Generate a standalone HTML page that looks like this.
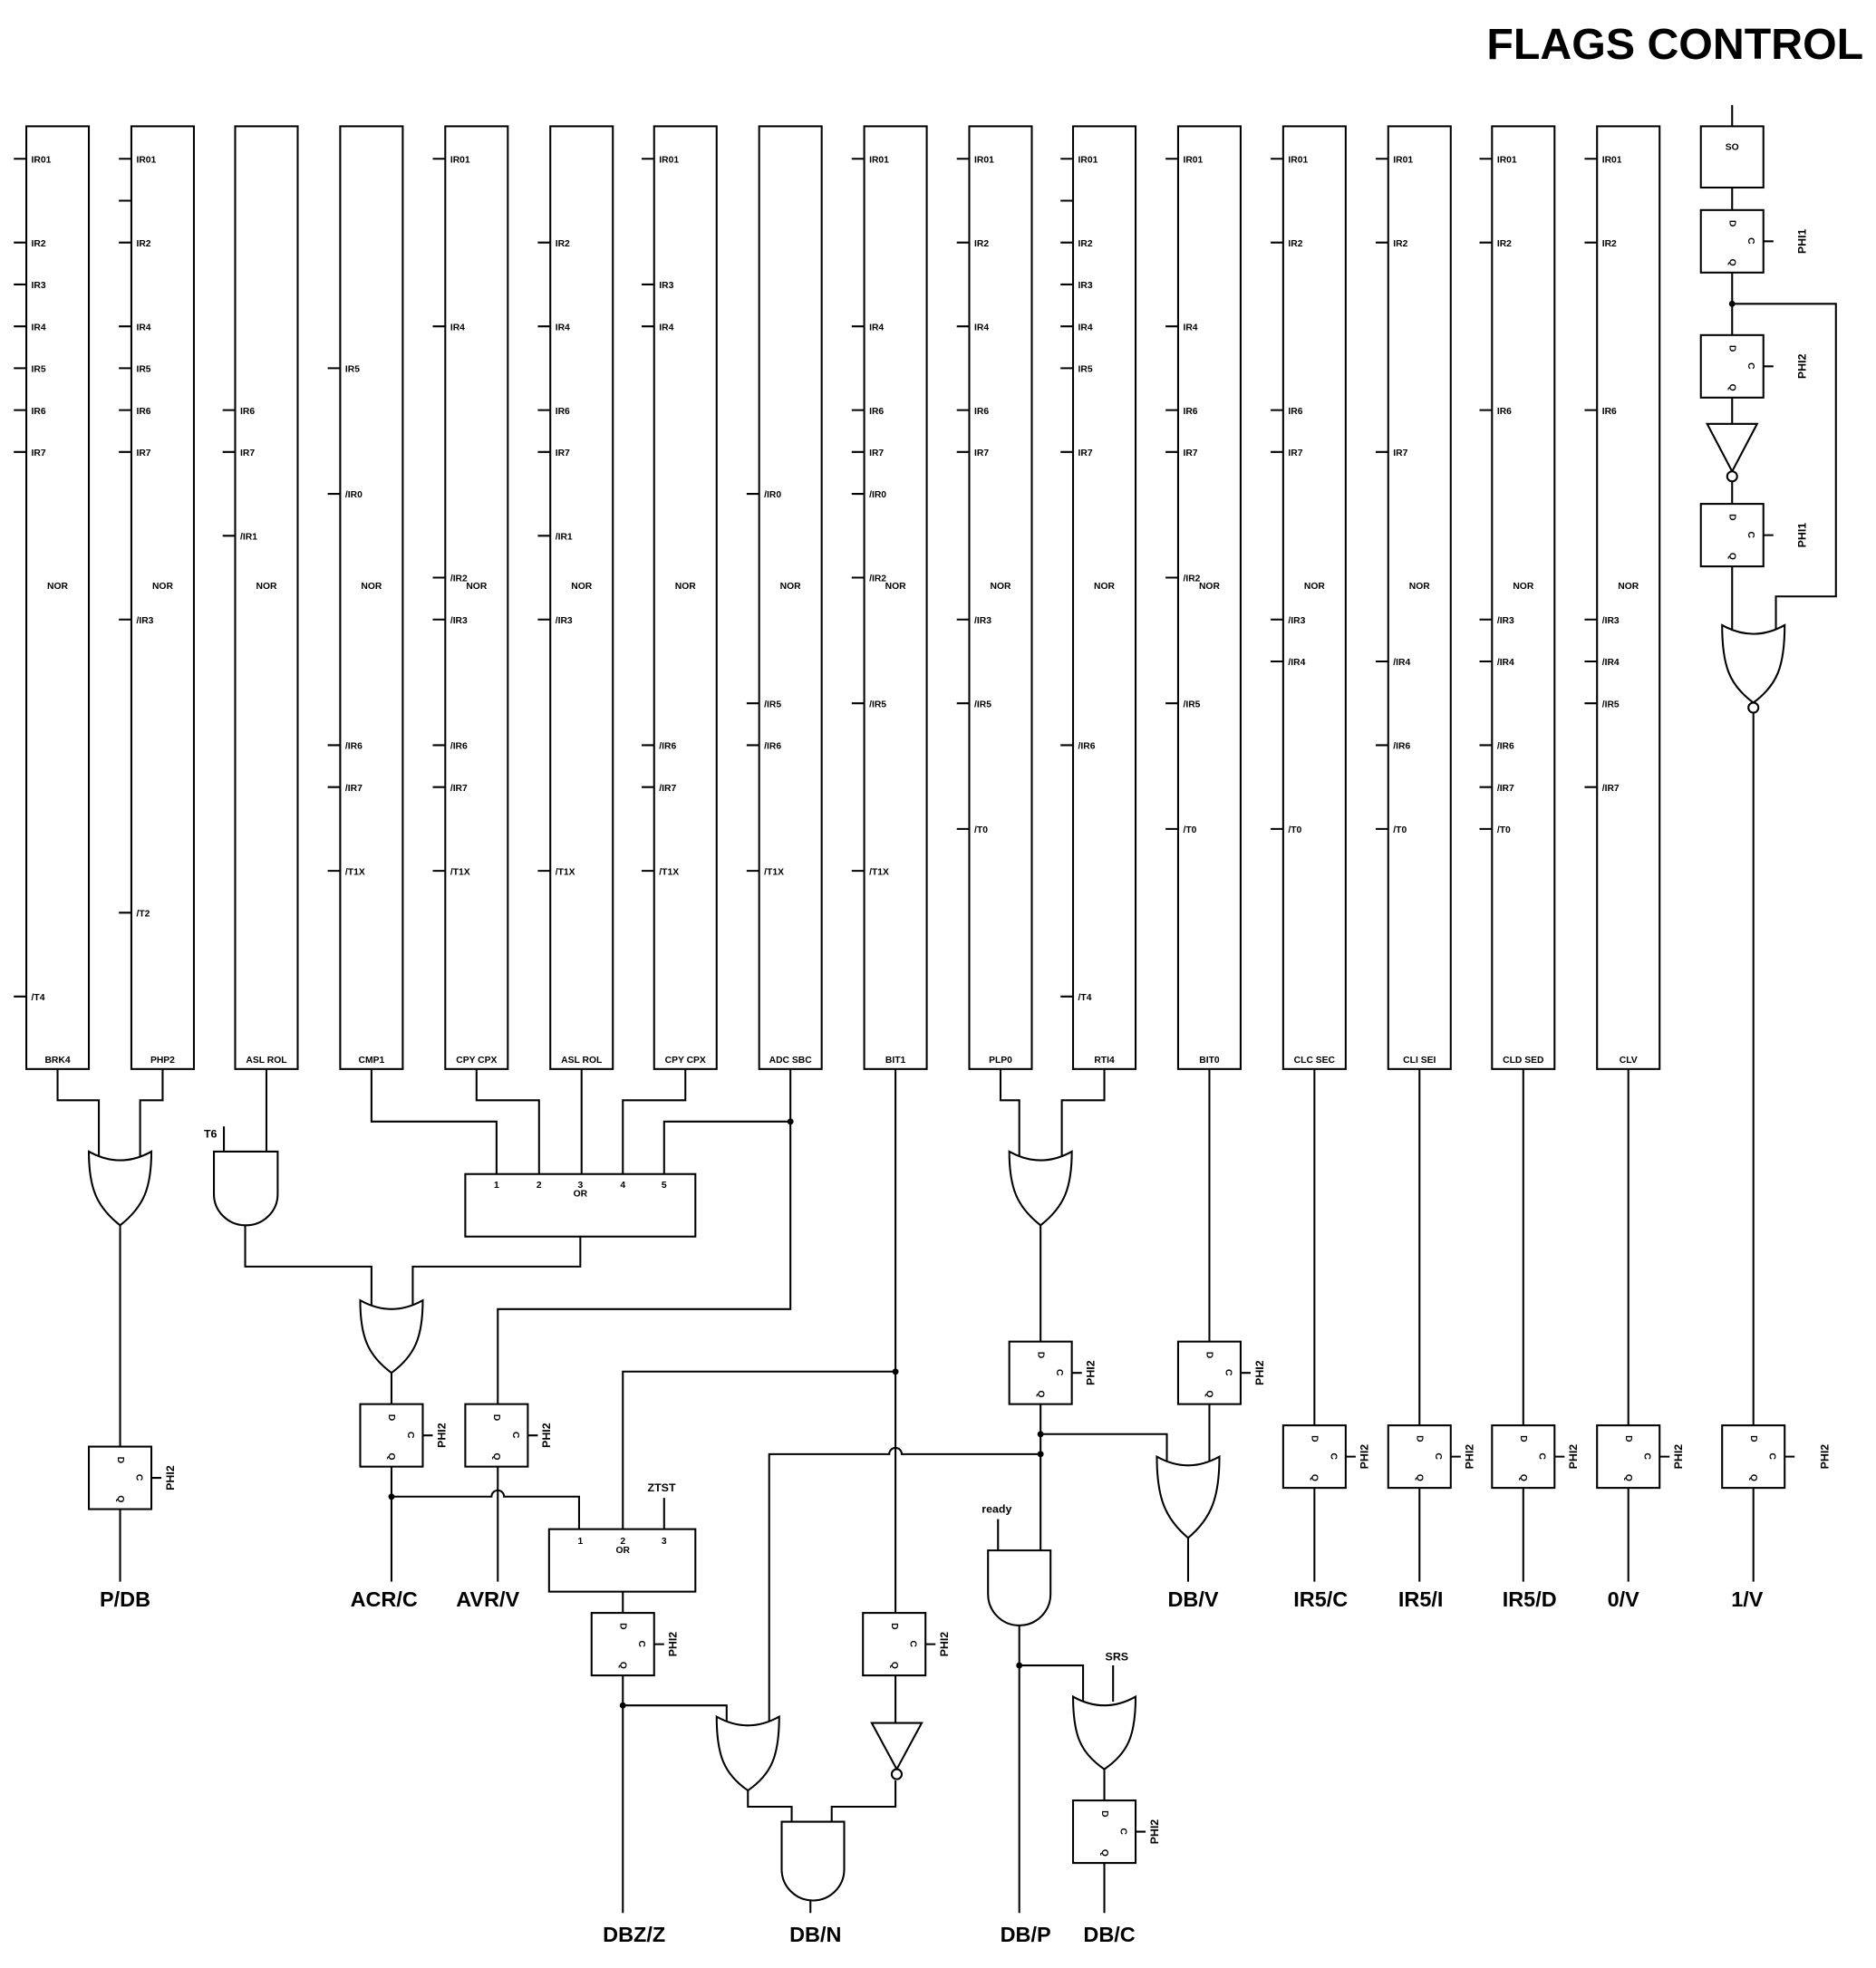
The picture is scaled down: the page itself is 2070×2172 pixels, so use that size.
<!DOCTYPE html>
<html><head><meta charset="utf-8"><style>
html,body{margin:0;padding:0;background:#fff}
svg{display:block}
.w{fill:none;stroke:#000;stroke-width:1.5}
.g{fill:#fff;stroke:#000;stroke-width:1.5}
text{font-family:"Liberation Sans",sans-serif;font-weight:bold;fill:#000}
.p{font-size:7.5px}
.c{font-size:7.5px;text-anchor:middle}
.o{font-size:17px;text-anchor:middle}
.ph{font-size:9px;text-anchor:middle}
</style></head><body>
<svg width="2070" height="2172" viewBox="0 0 1500 1574" xmlns="http://www.w3.org/2000/svg">
<text x="1490" y="47" style="font-size:35px;text-anchor:end">FLAGS CONTROL</text>

<!-- column boxes -->
<g class="g">
<rect x="21" y="101" width="50" height="754"/><rect x="105" y="101" width="50" height="754"/>
<rect x="188" y="101" width="50" height="754"/><rect x="272" y="101" width="50" height="754"/>
<rect x="356" y="101" width="50" height="754"/><rect x="440" y="101" width="50" height="754"/>
<rect x="523" y="101" width="50" height="754"/><rect x="607" y="101" width="50" height="754"/>
<rect x="691" y="101" width="50" height="754"/><rect x="775" y="101" width="50" height="754"/>
<rect x="858" y="101" width="50" height="754"/><rect x="942" y="101" width="50" height="754"/>
<rect x="1026" y="101" width="50" height="754"/><rect x="1110" y="101" width="50" height="754"/>
<rect x="1193" y="101" width="50" height="754"/><rect x="1277" y="101" width="50" height="754"/>
</g>
<g class="c">
<text x="46" y="850">BRK4</text><text x="130" y="850">PHP2</text><text x="213" y="850">ASL ROL</text><text x="297" y="850">CMP1</text>
<text x="381" y="850">CPY CPX</text><text x="465" y="850">ASL ROL</text><text x="548" y="850">CPY CPX</text><text x="632" y="850">ADC SBC</text>
<text x="716" y="850">BIT1</text><text x="800" y="850">PLP0</text><text x="883" y="850">RTI4</text><text x="967" y="850">BIT0</text>
<text x="1051" y="850">CLC SEC</text><text x="1135" y="850">CLI SEI</text><text x="1218" y="850">CLD SED</text><text x="1302" y="850">CLV</text>
<text x="46" y="471">NOR</text><text x="130" y="471">NOR</text><text x="213" y="471">NOR</text><text x="297" y="471">NOR</text>
<text x="381" y="471">NOR</text><text x="465" y="471">NOR</text><text x="548" y="471">NOR</text><text x="632" y="471">NOR</text>
<text x="716" y="471">NOR</text><text x="800" y="471">NOR</text><text x="883" y="471">NOR</text><text x="967" y="471">NOR</text>
<text x="1051" y="471">NOR</text><text x="1135" y="471">NOR</text><text x="1218" y="471">NOR</text><text x="1302" y="471">NOR</text>
</g>

<!-- pins -->
<g class="w">
<path d="M11 127h10M11 194h10M11 227.5h10M11 261h10M11 294.5h10M11 328h10M11 361.5h10M11 797h10"/>
<path d="M95 127h10M95 160.5h10M95 194h10M95 261h10M95 294.5h10M95 328h10M95 361.5h10M95 495.5h10M95 730h10"/>
<path d="M178 328h10M178 361.5h10M178 428.5h10"/>
<path d="M262 294.5h10M262 395h10M262 596h10M262 629.5h10M262 696.5h10"/>
<path d="M346 127h10M346 261h10M346 462h10M346 495.5h10M346 596h10M346 629.5h10M346 696.5h10"/>
<path d="M430 194h10M430 261h10M430 328h10M430 361.5h10M430 428.5h10M430 495.5h10M430 696.5h10"/>
<path d="M513 127h10M513 227.5h10M513 261h10M513 596h10M513 629.5h10M513 696.5h10"/>
<path d="M597 395h10M597 562.5h10M597 596h10M597 696.5h10"/>
<path d="M681 127h10M681 261h10M681 328h10M681 361.5h10M681 395h10M681 462h10M681 562.5h10M681 696.5h10"/>
<path d="M765 127h10M765 194h10M765 261h10M765 328h10M765 361.5h10M765 495.5h10M765 562.5h10M765 663h10"/>
<path d="M848 127h10M848 160.5h10M848 194h10M848 227.5h10M848 261h10M848 294.5h10M848 361.5h10M848 596h10M848 797h10"/>
<path d="M932 127h10M932 261h10M932 328h10M932 361.5h10M932 462h10M932 562.5h10M932 663h10"/>
<path d="M1016 127h10M1016 194h10M1016 328h10M1016 361.5h10M1016 495.5h10M1016 529h10M1016 663h10"/>
<path d="M1100 127h10M1100 194h10M1100 361.5h10M1100 529h10M1100 596h10M1100 663h10"/>
<path d="M1183 127h10M1183 194h10M1183 328h10M1183 495.5h10M1183 529h10M1183 596h10M1183 629.5h10M1183 663h10"/>
<path d="M1267 127h10M1267 194h10M1267 328h10M1267 495.5h10M1267 529h10M1267 562.5h10M1267 629.5h10"/>
</g>
<g class="p">
<text x="25" y="130">IR01</text><text x="25" y="197">IR2</text><text x="25" y="230.5">IR3</text><text x="25" y="264">IR4</text><text x="25" y="297.5">IR5</text><text x="25" y="331">IR6</text><text x="25" y="364.5">IR7</text><text x="25" y="800">/T4</text>
<text x="109" y="130">IR01</text><text x="109" y="197">IR2</text><text x="109" y="264">IR4</text><text x="109" y="297.5">IR5</text><text x="109" y="331">IR6</text><text x="109" y="364.5">IR7</text><text x="109" y="498.5">/IR3</text><text x="109" y="733">/T2</text>
<text x="192" y="331">IR6</text><text x="192" y="364.5">IR7</text><text x="192" y="431.5">/IR1</text>
<text x="276" y="297.5">IR5</text><text x="276" y="398">/IR0</text><text x="276" y="599">/IR6</text><text x="276" y="632.5">/IR7</text><text x="276" y="699.5">/T1X</text>
<text x="360" y="130">IR01</text><text x="360" y="264">IR4</text><text x="360" y="465">/IR2</text><text x="360" y="498.5">/IR3</text><text x="360" y="599">/IR6</text><text x="360" y="632.5">/IR7</text><text x="360" y="699.5">/T1X</text>
<text x="444" y="197">IR2</text><text x="444" y="264">IR4</text><text x="444" y="331">IR6</text><text x="444" y="364.5">IR7</text><text x="444" y="431.5">/IR1</text><text x="444" y="498.5">/IR3</text><text x="444" y="699.5">/T1X</text>
<text x="527" y="130">IR01</text><text x="527" y="230.5">IR3</text><text x="527" y="264">IR4</text><text x="527" y="599">/IR6</text><text x="527" y="632.5">/IR7</text><text x="527" y="699.5">/T1X</text>
<text x="611" y="398">/IR0</text><text x="611" y="565.5">/IR5</text><text x="611" y="599">/IR6</text><text x="611" y="699.5">/T1X</text>
<text x="695" y="130">IR01</text><text x="695" y="264">IR4</text><text x="695" y="331">IR6</text><text x="695" y="364.5">IR7</text><text x="695" y="398">/IR0</text><text x="695" y="465">/IR2</text><text x="695" y="565.5">/IR5</text><text x="695" y="699.5">/T1X</text>
<text x="779" y="130">IR01</text><text x="779" y="197">IR2</text><text x="779" y="264">IR4</text><text x="779" y="331">IR6</text><text x="779" y="364.5">IR7</text><text x="779" y="498.5">/IR3</text><text x="779" y="565.5">/IR5</text><text x="779" y="666">/T0</text>
<text x="862" y="130">IR01</text><text x="862" y="197">IR2</text><text x="862" y="230.5">IR3</text><text x="862" y="264">IR4</text><text x="862" y="297.5">IR5</text><text x="862" y="364.5">IR7</text><text x="862" y="599">/IR6</text><text x="862" y="800">/T4</text>
<text x="946" y="130">IR01</text><text x="946" y="264">IR4</text><text x="946" y="331">IR6</text><text x="946" y="364.5">IR7</text><text x="946" y="465">/IR2</text><text x="946" y="565.5">/IR5</text><text x="946" y="666">/T0</text>
<text x="1030" y="130">IR01</text><text x="1030" y="197">IR2</text><text x="1030" y="331">IR6</text><text x="1030" y="364.5">IR7</text><text x="1030" y="498.5">/IR3</text><text x="1030" y="532">/IR4</text><text x="1030" y="666">/T0</text>
<text x="1114" y="130">IR01</text><text x="1114" y="197">IR2</text><text x="1114" y="364.5">IR7</text><text x="1114" y="532">/IR4</text><text x="1114" y="599">/IR6</text><text x="1114" y="666">/T0</text>
<text x="1197" y="130">IR01</text><text x="1197" y="197">IR2</text><text x="1197" y="331">IR6</text><text x="1197" y="498.5">/IR3</text><text x="1197" y="532">/IR4</text><text x="1197" y="599">/IR6</text><text x="1197" y="632.5">/IR7</text><text x="1197" y="666">/T0</text>
<text x="1281" y="130">IR01</text><text x="1281" y="197">IR2</text><text x="1281" y="331">IR6</text><text x="1281" y="498.5">/IR3</text><text x="1281" y="532">/IR4</text><text x="1281" y="565.5">/IR5</text><text x="1281" y="632.5">/IR7</text>
</g>

<!-- wires -->
<g class="w">
<path d="M46 855V880H79V926M130 855V880H112V926M96 980V1157M96 1207V1265"/>
<path d="M179 921V901M213 855V921M196 980V1013H297V1045M464 989V1013H330V1045"/>
<path d="M297 855V897H397V939M381 855V880H431V939M465 855V939M548 855V880H498V939M632 855V1047H398V1123M632 897H531V939"/>
<path d="M313 1098V1123M313 1173V1265M398 1173V1265"/>
<path d="M313 1197H393A5 5 0 0 1 403 1197H463V1223M531 1198V1223"/>
<path d="M498 1223V1097H716M498 1273V1290M498 1340V1530M498 1364H581V1377"/>
<path d="M615 1377V1163H711A5 5 0 0 1 721 1163H832"/>
<path d="M716 855V1290M716 1340V1378M716 1424V1445H665V1457M598 1432V1445H633V1457M648 1520V1530"/>
<path d="M800 855V880H815V926M883 855V880H849V926M832 980V1073M832 1123V1240M832 1147H933V1170M798 1240V1215"/>
<path d="M967 855V1073M967 1123V1170M950 1230V1265"/>
<path d="M815 1300V1530M815 1332H866V1361M890 1361V1332M883 1415V1440M883 1490V1530"/>
<path d="M1051 855V1140M1051 1190V1265M1135 855V1140M1135 1190V1265M1218 855V1140M1218 1190V1265M1302 855V1140M1302 1190V1265"/>
<path d="M1385 84V101M1385 150V168M1385 218V268M1385 318V339M1385 385V403M1385 453V505M1385 243H1468V477H1420V505M1402 570V1140M1402 1190V1265"/>
</g>
<g>
<circle cx="632" cy="897" r="2.5"/><circle cx="313" cy="1197" r="2.5"/><circle cx="716" cy="1097" r="2.5"/>
<circle cx="498" cy="1364" r="2.5"/><circle cx="832" cy="1147" r="2.5"/><circle cx="832" cy="1163" r="2.5"/>
<circle cx="815" cy="1332" r="2.5"/><circle cx="1385" cy="243" r="2.5"/>
</g>

<!-- gates -->
<g class="g">
<path d="M71 921Q96 935 121 921C121 950 115 965 96 980C77 965 71 950 71 921Z"/>
<path d="M288 1040Q313 1054 338 1040C338 1069 332 1084 313 1098C294 1084 288 1069 288 1040Z"/>
<path d="M807 921Q832 935 857 921C857 950 851 965 832 980C813 965 807 950 807 921Z"/>
<path d="M925 1165Q950 1179 975 1165C975 1197 969 1214 950 1230C931 1214 925 1197 925 1165Z"/>
<path d="M573 1373Q598 1387 623 1373C623 1404 617 1419 598 1432C579 1419 573 1404 573 1373Z"/>
<path d="M858 1357Q883 1371 908 1357C908 1388 902 1402 883 1415C864 1402 858 1388 858 1357Z"/>
<path d="M1377 500Q1402 514 1427 500C1427 533 1421 548 1402 562C1383 548 1377 533 1377 500Z"/>
<path d="M171 921H222V955A25.5 25 0 0 1 171 955Z"/>
<path d="M790 1240H840V1275A25 25 0 0 1 790 1275Z"/>
<path d="M625 1457H675V1495A25 25 0 0 1 625 1495Z"/>
<path d="M697 1378H737L717 1415Z"/>
<path d="M1365 339H1405L1385 377Z"/>
<circle cx="1385" cy="381" r="4"/><circle cx="717" cy="1419" r="4"/><circle cx="1402" cy="566" r="4"/>
<rect x="372" y="939" width="184" height="50"/>
<rect x="439" y="1223" width="117" height="50"/>
<rect x="1360" y="101" width="50" height="49"/>
</g>
<g class="c">
<text x="397" y="950">1</text><text x="431" y="950">2</text><text x="464" y="950">3</text><text x="498" y="950">4</text><text x="531" y="950">5</text><text x="464" y="957">OR</text>
<text x="464" y="1235">1</text><text x="498" y="1235">2</text><text x="531" y="1235">3</text><text x="498" y="1242">OR</text>
<text x="1385" y="120">SO</text>
</g>
<text x="163" y="910" style="font-size:9px">T6</text>
<text x="529" y="1193" style="font-size:9px;text-anchor:middle">ZTST</text>
<text x="797" y="1210" style="font-size:9px;text-anchor:middle">ready</text>
<text x="893" y="1328" style="font-size:9px;text-anchor:middle">SRS</text>

<!-- DFFs: x,y top-left -->
<g class="g">
<rect x="71" y="1157" width="50" height="50"/><rect x="288" y="1123" width="50" height="50"/><rect x="372" y="1123" width="50" height="50"/>
<rect x="473" y="1290" width="50" height="50"/><rect x="690" y="1290" width="50" height="50"/><rect x="807" y="1073" width="50" height="50"/>
<rect x="942" y="1073" width="50" height="50"/><rect x="858" y="1440" width="50" height="50"/>
<rect x="1026" y="1140" width="50" height="50"/><rect x="1110" y="1140" width="50" height="50"/><rect x="1193" y="1140" width="50" height="50"/>
<rect x="1277" y="1140" width="50" height="50"/><rect x="1377" y="1140" width="50" height="50"/>
<rect x="1360" y="168" width="50" height="50"/><rect x="1360" y="268" width="50" height="50"/><rect x="1360" y="403" width="50" height="50"/>
</g>
<g class="w">
<path d="M121 1182h8M338 1148h8M422 1148h8M523 1315h8M740 1315h8M857 1098h8M992 1098h8M908 1465h8M1076 1165h8M1160 1165h8M1243 1165h8M1327 1165h8M1427 1165h8M1410 193h8M1410 293h8M1410 428h8"/>
</g>
<g style="font-size:7.5px">
<text transform="translate(94,1165) rotate(90)">D</text><text transform="translate(109,1179) rotate(90)">C</text><text transform="translate(94,1196) rotate(90)">Q</text>
<text transform="translate(311,1131) rotate(90)">D</text><text transform="translate(326,1145) rotate(90)">C</text><text transform="translate(311,1162) rotate(90)">Q</text>
<text transform="translate(395,1131) rotate(90)">D</text><text transform="translate(410,1145) rotate(90)">C</text><text transform="translate(395,1162) rotate(90)">Q</text>
<text transform="translate(496,1298) rotate(90)">D</text><text transform="translate(511,1312) rotate(90)">C</text><text transform="translate(496,1329) rotate(90)">Q</text>
<text transform="translate(713,1298) rotate(90)">D</text><text transform="translate(728,1312) rotate(90)">C</text><text transform="translate(713,1329) rotate(90)">Q</text>
<text transform="translate(830,1081) rotate(90)">D</text><text transform="translate(845,1095) rotate(90)">C</text><text transform="translate(830,1112) rotate(90)">Q</text>
<text transform="translate(965,1081) rotate(90)">D</text><text transform="translate(980,1095) rotate(90)">C</text><text transform="translate(965,1112) rotate(90)">Q</text>
<text transform="translate(881,1448) rotate(90)">D</text><text transform="translate(896,1462) rotate(90)">C</text><text transform="translate(881,1479) rotate(90)">Q</text>
<text transform="translate(1049,1148) rotate(90)">D</text><text transform="translate(1064,1162) rotate(90)">C</text><text transform="translate(1049,1179) rotate(90)">Q</text>
<text transform="translate(1133,1148) rotate(90)">D</text><text transform="translate(1148,1162) rotate(90)">C</text><text transform="translate(1133,1179) rotate(90)">Q</text>
<text transform="translate(1216,1148) rotate(90)">D</text><text transform="translate(1231,1162) rotate(90)">C</text><text transform="translate(1216,1179) rotate(90)">Q</text>
<text transform="translate(1300,1148) rotate(90)">D</text><text transform="translate(1315,1162) rotate(90)">C</text><text transform="translate(1300,1179) rotate(90)">Q</text>
<text transform="translate(1400,1148) rotate(90)">D</text><text transform="translate(1415,1162) rotate(90)">C</text><text transform="translate(1400,1179) rotate(90)">Q</text>
<text transform="translate(1383,176) rotate(90)">D</text><text transform="translate(1398,190) rotate(90)">C</text><text transform="translate(1383,207) rotate(90)">Q</text>
<text transform="translate(1383,276) rotate(90)">D</text><text transform="translate(1398,290) rotate(90)">C</text><text transform="translate(1383,307) rotate(90)">Q</text>
<text transform="translate(1383,411) rotate(90)">D</text><text transform="translate(1398,425) rotate(90)">C</text><text transform="translate(1383,442) rotate(90)">Q</text>
</g>
<g class="ph">
<text transform="translate(139,1182) rotate(-90)">PHI2</text>
<text transform="translate(356,1148) rotate(-90)">PHI2</text>
<text transform="translate(440,1148) rotate(-90)">PHI2</text>
<text transform="translate(541,1315) rotate(-90)">PHI2</text>
<text transform="translate(758,1315) rotate(-90)">PHI2</text>
<text transform="translate(875,1098) rotate(-90)">PHI2</text>
<text transform="translate(1010,1098) rotate(-90)">PHI2</text>
<text transform="translate(926,1465) rotate(-90)">PHI2</text>
<text transform="translate(1094,1165) rotate(-90)">PHI2</text>
<text transform="translate(1178,1165) rotate(-90)">PHI2</text>
<text transform="translate(1261,1165) rotate(-90)">PHI2</text>
<text transform="translate(1345,1165) rotate(-90)">PHI2</text>
<text transform="translate(1462,1165) rotate(-90)">PHI2</text>
<text transform="translate(1444,193) rotate(-90)">PHI1</text>
<text transform="translate(1444,293) rotate(-90)">PHI2</text>
<text transform="translate(1444,428) rotate(-90)">PHI1</text>
</g>

<!-- output labels -->
<g class="o">
<text x="100" y="1285">P/DB</text><text x="307" y="1285">ACR/C</text><text x="390" y="1285">AVR/V</text>
<text x="954" y="1285">DB/V</text><text x="1056" y="1285">IR5/C</text><text x="1136" y="1285">IR5/I</text>
<text x="1223" y="1285">IR5/D</text><text x="1298" y="1285">0/V</text><text x="1397" y="1285">1/V</text>
<text x="507" y="1553">DBZ/Z</text><text x="652" y="1553">DB/N</text><text x="820" y="1553">DB/P</text><text x="887" y="1553">DB/C</text>
</g>
</svg>
</body></html>
